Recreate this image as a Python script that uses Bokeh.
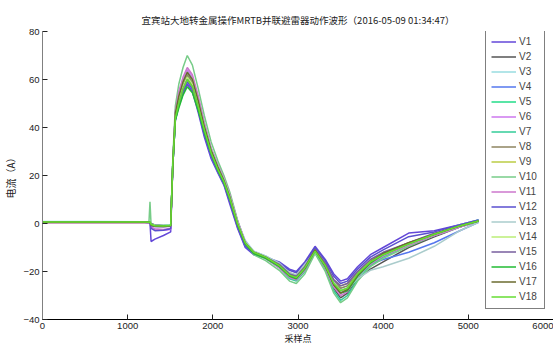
from bokeh.plotting import figure
from bokeh.models import Range1d, FixedTicker, Legend, LegendItem
from bokeh.embed import file_html
from bokeh.resources import INLINE

TITLE = "宜宾站大地转金属操作MRTB并联避雷器动作波形（2016-05-09 01:34:47）"
Y_LABEL = "电流（A）"
X_LABEL = "采样点"
X_TICKS = [0, 1000, 2000, 3000, 4000, 5000, 6000]
Y_TICKS = [-40, -20, 0, 20, 40, 60, 80]

# sample positions (shared by all series)
X_KEYS = [0, 600, 1200, 1250, 1262, 1275, 1320, 1420, 1505, 1530, 1560, 1600, 1650, 1700,
          1760, 1830, 1900, 1980, 2060, 2130, 2200, 2290, 2380, 2480, 2620, 2780, 2900, 2980,
          3080, 3200, 3320, 3420, 3500, 3580, 3700, 3850, 4000, 4300, 4600, 4900, 5120]

NAMES = ["V%d" % i for i in range(1, 19)]
COLORS = ["#6347d8", "#555555", "#99dde0", "#5577ee", "#22dd88", "#cc77ee", "#33cc99",
          "#8e8460", "#bbcc44", "#77cc88", "#cc77cc", "#5a4fcf", "#aacccc", "#bbee77",
          "#775e9e", "#22bb33", "#6b6b2f", "#66dd33"]

V1 = [0.6, 0.7, 0.6, 0.5, 0.3, -7.5, -6.5, -5, -3.5, 24, 43, 49, 54, 58, 55, 46, 36, 27, 21, 16, 8,
      -2, -10, -13, -14, -16, -19, -20, -16, -9.5, -15, -21, -24, -23, -18, -13, -10, -4, -3, -0.5, 1.5]
V2 = [0.4, 0.5, 0.4, 0.5, 0.8, 0, -0.6, -0.8, -0.7, 25, 45, 52, 58, 62, 59, 50, 40, 30, 23, 18, 11,
      0.5, -8, -12.5, -14.5, -18, -22, -23, -19, -11.5, -18, -27, -31, -29, -23, -19, -16, -10, -5.5, -1.5, 0.8]
V3 = [0.8, 0.8, 0.7, 0.6, 0.6, -0.3, -0.8, -0.9, -0.6, 26, 46, 54, 60, 64, 61, 52, 41, 31, 24, 19, 12,
      1, -7, -11.5, -13.5, -16.5, -20.5, -21.5, -17.5, -12, -17, -24, -27, -26, -21, -16, -13.5, -9, -4.5, -0.5, 1.5]
V4 = [0.6, 0.5, 0.6, 0.5, 0.4, -1, -1.2, -1.3, -1, 24, 44, 50, 56, 60, 57, 48, 38, 28, 21.5, 16.5, 9.5,
      -1, -9.5, -12.5, -14, -17, -21, -22, -18, -11, -17, -25, -28, -27, -22, -17, -15, -12, -8, -3, 0.5]
V5 = [0.5, 0.6, 0.5, 0.4, 0.5, -0.4, -0.9, -1, -0.8, 25, 46, 53, 59, 63, 60, 51, 41, 31, 24, 19, 11.5,
      0.5, -8, -12, -14, -17.5, -21.5, -22.5, -18.5, -11, -17.5, -25, -28, -27, -21.5, -16.5, -13, -8.5, -4.5, -1, 1]
V6 = [0.3, 0.4, 0.3, 0.2, 0.2, -1.5, -2.5, -2.8, -2.5, 24, 46, 54, 60, 64, 61, 52, 42, 31, 24, 19, 12,
      1, -7.5, -12, -14.5, -18, -22.5, -23.5, -19, -11.5, -18, -26, -29, -28, -22, -17, -13.5, -9, -5, -1.5, 1]
V7 = [0.7, 0.6, 0.7, 0.6, 0.7, -0.2, -0.7, -0.8, -0.6, 25, 45, 51, 57, 61, 58, 49, 39, 29.5, 22.5, 17.5, 10.5,
      0, -8.5, -12.5, -14.5, -18.5, -23, -24, -20, -12, -19, -28, -32, -30, -23.5, -17.5, -14, -9, -5, -1, 1.5]
V8 = [0.5, 0.5, 0.5, 0.5, 0.6, -0.5, -1, -1.1, -0.9, 25, 45, 52, 58, 62, 59, 50, 40, 30, 23, 18, 11,
      0, -8, -12, -14, -17, -21, -22, -18, -11, -17, -24, -27, -26, -20.5, -15.5, -12.5, -8.5, -4.5, -1, 1]
V9 = [0.4, 0.5, 0.4, 0.4, 0.5, -0.6, -1.1, -1.2, -1, 24, 44, 50, 56, 60, 57, 48.5, 39, 29, 22, 17, 10,
      -0.5, -8.5, -12, -14, -17, -20.5, -21.5, -17.5, -11, -16.5, -23.5, -26, -25, -20, -15.5, -12.5, -8, -4.5, -1, 1]
V10 = [0.6, 0.6, 0.6, 0.5, 9, -0.5, -1, -1, -0.8, 27, 49, 58, 65, 70, 66, 56, 45, 34, 26, 20, 13,
       1.5, -8, -13, -15.5, -19.5, -24, -25, -21, -12.5, -20, -29, -33, -31, -24, -18, -14.5, -9.5, -5, -1.5, 1]
V11 = [0.4, 0.4, 0.4, 0.3, 0.2, -1.5, -2.2, -2.5, -2, 25, 47, 55, 61, 65, 62, 53, 42, 31.5, 24.5, 19, 12,
       1, -7.5, -12, -14.5, -18.5, -22.5, -23.5, -19.5, -11.5, -18.5, -26.5, -30, -28.5, -22, -17, -13.5, -9, -5, -1.5, 1]
V12 = [0.5, 0.5, 0.5, 0.4, 0.3, -2, -3, -2.8, -2.2, 24, 43, 49.5, 55, 59, 56, 47, 37, 28, 21.5, 16.5, 9,
       -1.5, -9.5, -12.5, -14, -16.5, -19.5, -20.5, -16.5, -10, -15.5, -22, -25, -24, -19, -14, -11, -5.5, -3.5, -0.5, 1.5]
V13 = [0.7, 0.7, 0.7, 0.6, 0.6, -0.4, -0.8, -0.9, -0.7, 25, 46, 53, 59, 63, 60, 51, 41, 31, 24, 18.5, 11.5,
       0.5, -7.5, -11.5, -13.5, -16.5, -20.5, -21.5, -17, -12, -17.5, -24.5, -28, -27.5, -23, -19.5, -18, -14.5, -9.5, -3, 0.5]
V14 = [0.5, 0.6, 0.5, 0.5, 0.6, -0.3, -0.8, -0.9, -0.7, 25, 45, 51, 57, 61, 58, 49, 39.5, 29.5, 22.5, 17.5, 10.5,
       0, -8, -12, -14, -17.5, -21.5, -22.5, -18.5, -11.5, -17.5, -25, -28, -27, -21, -16, -13, -8.5, -4.5, -1, 1]
V15 = [0.5, 0.5, 0.5, 0.4, 0.4, -0.8, -1.3, -1.4, -1.1, 24, 44, 50, 56, 60, 57, 48, 38.5, 29, 22, 17, 10,
       -0.5, -8.5, -12, -14, -17, -21, -22, -18, -11, -16.5, -23.5, -26, -25, -20, -15, -12, -8, -4, -1, 1]
V16 = [0.6, 0.6, 0.6, 0.5, 0.5, -0.5, -1, -1, -0.8, 24, 43, 48, 53.5, 57, 54.5, 47, 38, 29, 22, 17, 10,
       -0.5, -8.5, -12.5, -14.5, -18, -22, -23, -19, -11.5, -18, -25.5, -29, -28, -22, -16.5, -13, -8.5, -4.5, -1, 1]
V17 = [0.5, 0.5, 0.5, 0.5, 0.5, -0.6, -1, -1.1, -0.9, 25, 46, 53, 59, 63, 60, 51, 40.5, 30.5, 23.5, 18, 11,
       0, -8, -12, -14, -17.5, -21.5, -22.5, -18.5, -11, -17.5, -25.5, -29, -27.5, -21.5, -16, -12.5, -8, -4.5, -1, 1]
V18 = [0.6, 0.6, 0.6, 0.5, 0.6, -0.4, -0.9, -1, -0.8, 25, 44, 50, 56, 60, 57, 48.5, 39, 29.5, 22.5, 17.5, 10.5,
       0, -8, -12, -14, -17.5, -21.5, -22.5, -18.5, -11.5, -17.5, -25, -28, -27, -21, -16, -13, -8.5, -4.5, -1, 1]

SERIES = [V1, V2, V3, V4, V5, V6, V7, V8, V9, V10, V11, V12, V13, V14, V15, V16, V17, V18]

CJK = "Noto Sans CJK SC"
NUM = "Liberation Sans"
TXT = "#222222"

p = figure(width=553, height=347, x_range=Range1d(0, 6000), y_range=Range1d(-40, 80),
           output_backend="svg", toolbar_location=None,
           min_border_left=41, min_border_right=0, min_border_top=31, min_border_bottom=22)
p.title.text = TITLE
p.title.align = "center"
p.title.text_font = CJK
p.title.text_font_size = "9.5px"
p.title.text_font_style = "normal"
p.title.text_color = TXT
p.title.standoff = 9

p.outline_line_color = None
p.xgrid.visible = False
p.ygrid.visible = False
p.background_fill_color = "white"

p.xaxis.ticker = FixedTicker(ticks=X_TICKS)
p.yaxis.ticker = FixedTicker(ticks=Y_TICKS)
for ax in (p.xaxis, p.yaxis):
    ax.major_tick_in = 5
    ax.major_tick_out = 0
    ax.minor_tick_in = 0
    ax.minor_tick_out = 0
    ax.major_label_text_font = NUM
    ax.major_label_text_font_size = "9.5px"
    ax.major_label_text_color = TXT
    ax.major_tick_line_color = TXT
    ax.major_label_standoff = 3
p.xaxis.axis_line_color = "black"
p.xaxis.axis_line_width = 1.2
p.xaxis.axis_label = X_LABEL
p.xaxis.axis_label_text_font = CJK
p.xaxis.axis_label_text_font_size = "9px"
p.xaxis.axis_label_text_font_style = "normal"
p.xaxis.axis_label_text_color = TXT
p.xaxis.axis_label_standoff = 0
p.yaxis.axis_line_color = "#808080"
p.yaxis.axis_label = Y_LABEL
p.yaxis.axis_label_text_font = CJK
p.yaxis.axis_label_text_font_size = "10px"
p.yaxis.axis_label_text_font_style = "normal"
p.yaxis.axis_label_text_color = TXT
p.yaxis.axis_label_standoff = 2

items = []
for name, color, ys in zip(NAMES, COLORS, SERIES):
    r = p.line(X_KEYS, ys, line_color=color, line_width=1.5)
    items.append(LegendItem(label=name, renderers=[r]))

legend = Legend(items=items, location=(443, 10), margin=0, padding=5, spacing=2,
                glyph_width=25, glyph_height=13, label_height=13, label_standoff=3,
                label_text_font=NUM, label_text_font_size="10px",
                border_line_color="black", border_line_width=1.5,
                background_fill_color="white", background_fill_alpha=1.0)
p.add_layout(legend)

open("out.html", "w").write(file_html(p, INLINE))
